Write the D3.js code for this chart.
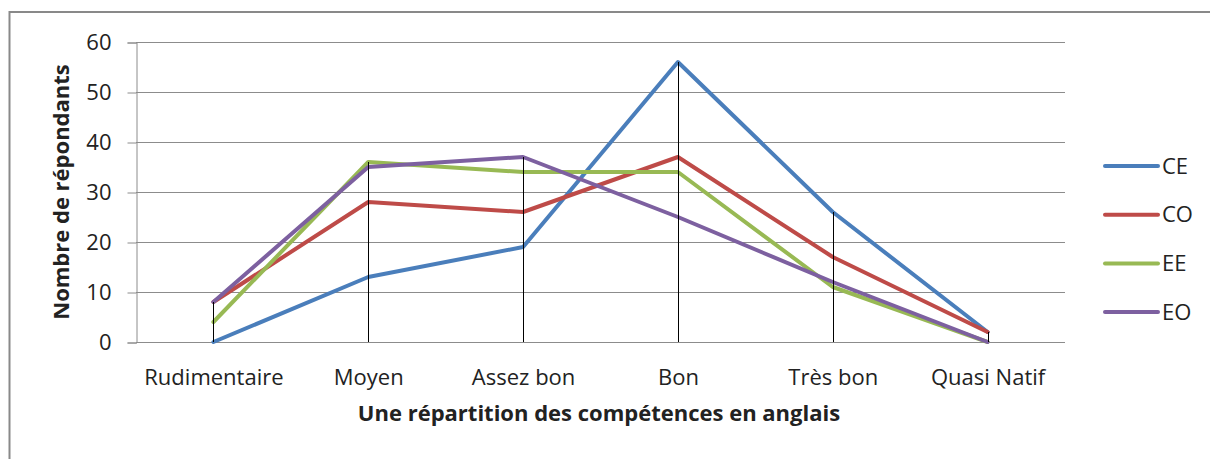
<!DOCTYPE html>
<html>
<head>
<meta charset="utf-8">
<script src="https://cdn.jsdelivr.net/npm/d3@7"></script>
<style>
  html, body { margin: 0; padding: 0; background: #fff; }
  svg { display: block; }
  text { font-family: "Open Sans", "Noto Sans", sans-serif; fill: #222; }
</style>
</head>
<body>
<svg id="chart" width="1210" height="459"></svg>
<script>
// Niveaux de compétence (axe des catégories)
const categories = ["Rudimentaire", "Moyen", "Assez bon", "Bon", "Très bon", "Quasi Natif"];

// Nombre de répondants par compétence
const seriesNames = ["CE", "CO", "EE", "EO"];
const valuesCE = [0, 13, 19, 56, 26, 2];
const valuesCO = [8, 28, 26, 37, 17, 2];
const valuesEE = [4, 36, 34, 34, 11, 0];
const valuesEO = [8, 35, 37, 25, 12, 0];

const yTicks = [0, 10, 20, 30, 40, 50, 60];
const colors = ["#4A7EBB", "#BE4B48", "#98B954", "#7D60A0"];

const FONT_SIZE = 22;

const series = [valuesCE, valuesCO, valuesEE, valuesEO].map((vals, i) => ({
  name: seriesNames[i],
  color: colors[i],
  values: vals
}));

const svg = d3.select("#chart");

const plot = { left: 136, right: 1065, top: 42, bottom: 342 };

const x = d3.scalePoint()
  .domain(categories)
  .range([plot.left, plot.right])
  .padding(0.5);

const y = d3.scaleLinear()
  .domain([0, 60])
  .range([plot.bottom, plot.top]);

// Cadre du graphique (haut et gauche)
svg.append("path")
  .attr("d", `M9.5,459 V12 H1210`)
  .attr("fill", "none")
  .attr("stroke", "#898989")
  .attr("stroke-width", 2);

// Quadrillage horizontal
svg.append("g")
  .selectAll("line")
  .data(yTicks.filter(t => t > 0))
  .join("line")
  .attr("x1", plot.left)
  .attr("x2", plot.right)
  .attr("y1", d => Math.round(y(d)) + 0.5)
  .attr("y2", d => Math.round(y(d)) + 0.5)
  .attr("stroke", "#8c8c8c")
  .attr("stroke-width", 1);

// Axe vertical
const yAxis = d3.axisLeft(y)
  .tickValues(yTicks)
  .tickSize(9)
  .tickPadding(16)
  .tickFormat(d3.format("d"));

const yG = svg.append("g")
  .attr("transform", `translate(${plot.left + 0.5},0.5)`)
  .call(yAxis);
yG.select(".domain").attr("stroke", "#8c8c8c");
yG.selectAll(".tick line").attr("stroke", "#8c8c8c");
yG.selectAll(".tick text")
  .attr("font-size", FONT_SIZE)
  .attr("fill", "#222")
  .style("font-family", "'Open Sans', sans-serif");

// Axe horizontal
const xAxis = d3.axisBottom(x)
  .tickSize(0)
  .tickPadding(27);

const xG = svg.append("g")
  .attr("transform", `translate(0,${plot.bottom + 0.5})`)
  .call(xAxis);
xG.select(".domain")
  .attr("d", `M${plot.left},0H${plot.right}`)
  .attr("stroke", "#8c8c8c");
xG.selectAll(".tick text")
  .attr("font-size", FONT_SIZE)
  .attr("fill", "#222")
  .style("font-family", "'Open Sans', sans-serif");

// Courbes des séries
const line = d3.line()
  .x((d, i) => x(categories[i]))
  .y(d => y(d));

svg.append("g")
  .selectAll("path")
  .data(series)
  .join("path")
  .attr("d", d => line(d.values))
  .attr("fill", "none")
  .attr("stroke", d => d.color)
  .attr("stroke-width", 4)
  .attr("stroke-linejoin", "round")
  .attr("stroke-linecap", "round");

// Lignes de projection (du maximum jusqu'à l'axe)
svg.append("g")
  .selectAll("line")
  .data(categories)
  .join("line")
  .attr("x1", d => Math.round(x(d)) + 0.5)
  .attr("x2", d => Math.round(x(d)) + 0.5)
  .attr("y1", (d, i) => y(d3.max(series, s => s.values[i])))
  .attr("y2", y(0))
  .attr("stroke", "#000")
  .attr("stroke-width", 1);

// Titres des axes
svg.append("text")
  .attr("x", 599)
  .attr("y", 421)
  .attr("text-anchor", "middle")
  .attr("font-size", FONT_SIZE)
  .attr("font-weight", "bold")
  .attr("fill", "#111")
  .text("Une répartition des compétences en anglais");

svg.append("text")
  .attr("transform", `translate(69,${(plot.top + plot.bottom) / 2}) rotate(-90)`)
  .attr("text-anchor", "middle")
  .attr("font-size", FONT_SIZE)
  .attr("font-weight", "bold")
  .attr("fill", "#111")
  .text("Nombre de répondants");

// Légende
const legend = svg.append("g")
  .selectAll("g")
  .data(series)
  .join("g")
  .attr("transform", (d, i) => `translate(1105,${166 + i * 48.7})`);

legend.append("line")
  .attr("x1", 0)
  .attr("x2", 53)
  .attr("stroke", d => d.color)
  .attr("stroke-width", 4)
  .attr("stroke-linecap", "round");

legend.append("text")
  .attr("x", 57)
  .attr("dy", "0.35em")
  .attr("font-size", FONT_SIZE)
  .attr("fill", "#222")
  .text(d => d.name);
</script>
</body>
</html>
